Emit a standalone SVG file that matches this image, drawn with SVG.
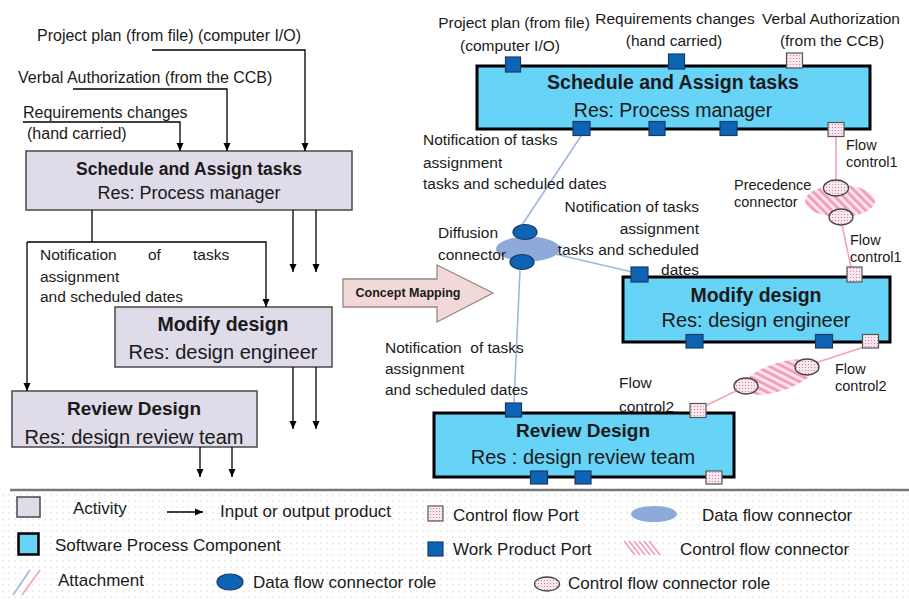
<svg xmlns="http://www.w3.org/2000/svg" width="909" height="600" viewBox="0 0 909 600">
<style>
text{font-family:"Liberation Sans",Arial,sans-serif;fill:#1a1a1a}
.lbl{font-size:15.5px}
.sm{font-size:14.5px}
.llbl{font-size:16px}
.leg{font-size:17px}
.act{fill:#DFDBE8;stroke:#4a4a4a;stroke-width:1.5}
.spc{fill:#67D3F6;stroke:#000;stroke-width:3}
.t1{font-weight:bold;text-anchor:middle}
.t2{text-anchor:middle}
.wp{fill:#0E64B4;stroke:#1A3A66;stroke-width:1.2}
.cp{fill:url(#dots);stroke:#555;stroke-width:1.2}
.dfr{fill:#0E64B4;stroke:#1A3A66;stroke-width:1.2}
.cfr{fill:url(#dots);stroke:#444;stroke-width:1.3}
.flow{fill:none;stroke:#000;stroke-width:1.3}
.att-b{fill:none;stroke:#9DB8DE;stroke-width:1.6}
.att-p{fill:none;stroke:#F2A3BF;stroke-width:1.6}
</style>
<defs>
<marker id="arr" markerUnits="userSpaceOnUse" markerWidth="8" markerHeight="8" refX="8" refY="4" orient="auto">
<path d="M0,0.5 L8,4 L0,7.5 z" fill="#000"/>
</marker>
<pattern id="dots" width="3" height="3" patternUnits="userSpaceOnUse">
<rect width="3" height="3" fill="#FAE6EF"/>
<circle cx="1.5" cy="1.5" r="0.6" fill="#B97E98"/>
</pattern>
<pattern id="hatch" width="6" height="6" patternUnits="userSpaceOnUse" patternTransform="rotate(-45)">
<rect width="6" height="6" fill="#FCE3EC"/>
<rect width="2.8" height="6" fill="#F29BBA"/>
</pattern>
<pattern id="bgdots" width="6" height="6" patternUnits="userSpaceOnUse">
<rect width="6" height="6" fill="#fff"/>
<circle cx="3" cy="3" r="0.6" fill="#bdbdbd"/>
</pattern>
</defs>
<rect width="909" height="600" fill="#fff"/>

<!-- LEFT: activities -->
<g id="act-schedule">
<rect class="act" x="26" y="151" width="326" height="59"/>
<text class="t1" x="189" y="175" font-size="17.5">Schedule and Assign tasks</text>
<text class="t2" x="189" y="199" font-size="18">Res: Process manager</text>
</g>
<g id="act-modify">
<rect class="act" x="115" y="307" width="217" height="60"/>
<text class="t1" x="223" y="331" font-size="19.5">Modify design</text>
<text class="t2" x="223" y="359" font-size="20">Res: design engineer</text>
</g>
<g id="act-review">
<rect class="act" x="12" y="391" width="245" height="56"/>
<text class="t1" x="134" y="415" font-size="19">Review Design</text>
<text class="t2" x="134" y="444" font-size="20">Res: design review team</text>
</g>

<g id="left-connectors">
<path class="flow" d="M152,50 H305 V151" marker-end="url(#arr)"/>
<path class="flow" d="M73,89 H227 V151" marker-end="url(#arr)"/>
<path class="flow" d="M23,122 H180 V151" marker-end="url(#arr)"/>
<path class="flow" d="M92,210 V242"/>
<path class="flow" d="M27,242 H266 V307" marker-end="url(#arr)"/>
<path class="flow" d="M27,242 V391" marker-end="url(#arr)"/>
<path class="flow" d="M293,210 V272" marker-end="url(#arr)"/>
<path class="flow" d="M316,210 V272" marker-end="url(#arr)"/>
<path class="flow" d="M293,367 V429" marker-end="url(#arr)"/>
<path class="flow" d="M316,367 V429" marker-end="url(#arr)"/>
<path class="flow" d="M200,447 V477" marker-end="url(#arr)"/>
<path class="flow" d="M232,447 V477" marker-end="url(#arr)"/>
</g>
<g id="left-labels">
<text class="llbl" x="37" y="41">Project plan (from file) (computer I/O)</text>
<text class="llbl" x="18" y="83">Verbal Authorization (from the CCB)</text>
<text class="llbl" x="23" y="118">Requirements changes</text>
<text class="llbl" x="27" y="139">(hand carried)</text>
<text class="lbl"><tspan x="40" y="260">Notification</tspan><tspan x="148" y="260">of</tspan><tspan x="193" y="260">tasks</tspan></text>
<text class="lbl" x="40" y="282">assignment</text>
<text class="lbl" x="40" y="302">and scheduled dates</text>
</g>

<!-- Concept mapping arrow -->
<g id="concept-mapping">
<path d="M343,279 H437 V265 L493,293 L437,322 V307 H343 Z" fill="#F2D9D7" stroke="#9a8585" stroke-width="1.3"/>
<text x="408" y="297" font-size="12.5" font-weight="bold" text-anchor="middle">Concept Mapping</text>
</g>

<!-- RIGHT: connectors -->
<g id="right-connectors">
<path class="att-b" d="M581,136 L522,225"/>
<path class="att-b" d="M555,254 L632,272"/>
<path class="att-b" d="M520,270 L514,403"/>
<path class="att-p" d="M836,137 V180"/>
<path class="att-p" d="M842,225 L851,267"/>
<path class="att-p" d="M864,347 L815,363"/>
<path class="att-p" d="M736,391 L705,406"/>
<g id="diffusion-connector">
<ellipse cx="528" cy="249" rx="32" ry="12.5" fill="#8EAADB"/>
<ellipse class="dfr" cx="525" cy="232" rx="12" ry="7.5"/>
<ellipse class="dfr" cx="522" cy="262" rx="12" ry="7.5"/>
</g>
<g id="precedence-connector">
<ellipse cx="840" cy="201" rx="35" ry="16" fill="url(#hatch)"/>
<ellipse class="cfr" cx="836" cy="188" rx="12.5" ry="8"/>
<ellipse class="cfr" cx="841" cy="217" rx="12" ry="8"/>
</g>
<g id="flow-control2-connector">
<ellipse cx="779" cy="377" rx="38" ry="14" fill="url(#hatch)" transform="rotate(-18 779 377)"/>
<ellipse class="cfr" cx="807" cy="367" rx="12" ry="8"/>
<ellipse class="cfr" cx="746" cy="386" rx="12" ry="8"/>
</g>
</g>

<!-- RIGHT: components -->
<g id="spc-schedule">
<rect class="spc" x="477" y="66" width="393" height="63"/>
<text class="t1" x="673" y="89" font-size="19.5">Schedule and Assign tasks</text>
<text class="t2" x="673" y="117" font-size="19.5">Res: Process manager</text>
<rect class="wp" x="505.5" y="57" width="15" height="15"/>
<rect class="wp" x="668.5" y="54" width="16" height="15"/>
<rect class="cp" x="786.5" y="53" width="16" height="15"/>
<rect class="wp" x="573" y="121.5" width="17" height="14"/>
<rect class="wp" x="649" y="121.5" width="16" height="14"/>
<rect class="wp" x="720" y="121.5" width="17" height="14"/>
<rect class="cp" x="828" y="122.5" width="16" height="14"/>
</g>
<g id="spc-modify">
<rect class="spc" x="623" y="277" width="267" height="65"/>
<text class="t1" x="756" y="302" font-size="19.5">Modify design</text>
<text class="t2" x="756" y="327" font-size="20">Res: design engineer</text>
<rect class="wp" x="631" y="267" width="17" height="15"/>
<rect class="cp" x="847" y="267" width="15" height="15"/>
<rect class="wp" x="686" y="334.5" width="17" height="13.5"/>
<rect class="wp" x="815.5" y="334.5" width="17" height="13.5"/>
<rect class="cp" x="862.5" y="334.5" width="16" height="13.5"/>
</g>
<g id="spc-review">
<rect class="spc" x="434" y="413" width="300" height="64"/>
<text class="t1" x="583" y="437" font-size="19">Review Design</text>
<text class="t2" x="583" y="464" font-size="20">Res : design review team</text>
<rect class="wp" x="505.5" y="403" width="16" height="14"/>
<rect class="cp" x="690" y="403.5" width="16" height="14"/>
<rect class="wp" x="530.5" y="471" width="17" height="13"/>
<rect class="wp" x="575" y="471" width="16" height="13"/>
<rect class="cp" x="706" y="471" width="16" height="13"/>
</g>

<g id="right-labels">
<text class="lbl" x="514" y="28" text-anchor="middle">Project plan (from file)</text>
<text class="lbl" x="510" y="51" text-anchor="middle">(computer I/O)</text>
<text class="lbl" x="675" y="24" text-anchor="middle">Requirements changes</text>
<text class="lbl" x="674" y="46" text-anchor="middle">(hand carried)</text>
<text class="lbl" x="831" y="24" text-anchor="middle">Verbal Authorization</text>
<text class="lbl" x="832" y="46" text-anchor="middle">(from the CCB)</text>
<text class="lbl" x="423" y="145">Notification of tasks</text>
<text class="lbl" x="423" y="168">assignment</text>
<text class="lbl" x="423" y="189">tasks and scheduled dates</text>
<text class="lbl" x="699" y="212" text-anchor="end">Notification of tasks</text>
<text class="lbl" x="699" y="234" text-anchor="end">assignment</text>
<text class="lbl" x="699" y="255" text-anchor="end">tasks and scheduled</text>
<text class="lbl" x="699" y="275" text-anchor="end">dates</text>
<text class="lbl" x="438" y="238">Diffusion</text>
<text class="lbl" x="438" y="260">connector</text>
<text class="sm" x="734" y="190">Precedence</text>
<text class="sm" x="734" y="207">connector</text>
<text class="sm" x="846" y="150">Flow</text>
<text class="sm" x="846" y="167">control1</text>
<text class="sm" x="850" y="245">Flow</text>
<text class="sm" x="850" y="262">control1</text>
<text class="lbl" x="385" y="353" xml:space="preserve">Notification  of tasks</text>
<text class="lbl" x="385" y="374">assignment</text>
<text class="lbl" x="385" y="395">and scheduled dates</text>
<text class="lbl" x="619" y="388">Flow</text>
<text class="lbl" x="619" y="412">control2</text>
<text class="sm" x="835" y="374">Flow</text>
<text class="sm" x="835" y="391">control2</text>
</g>

<!-- LEGEND -->
<g id="legend">
<rect x="0" y="491" width="909" height="109" fill="url(#bgdots)"/>
<line x1="10" y1="490" x2="909" y2="490" stroke="#777" stroke-width="2.5"/>
<rect class="act" x="17" y="497" width="23" height="20"/>
<text class="leg" x="73" y="514">Activity</text>
<line x1="167" y1="512" x2="203" y2="512" stroke="#000" stroke-width="1.3" marker-end="url(#arr)"/>
<text class="leg" x="220" y="517">Input or output product</text>
<rect class="cp" x="428" y="506" width="15" height="15"/>
<text class="leg" x="453" y="521">Control flow Port</text>
<ellipse cx="654" cy="514" rx="23" ry="8" fill="#8EAADB"/>
<text class="leg" x="702" y="521">Data flow connector</text>
<rect x="18.5" y="533.5" width="20" height="21" fill="#67D3F6" stroke="#000" stroke-width="2.5"/>
<text class="leg" x="55" y="551">Software Process Component</text>
<rect class="wp" x="428" y="542" width="15" height="14"/>
<text class="leg" x="453" y="555">Work Product Port</text>
<g stroke="#F29BBA" stroke-width="1.6">
<line x1="624" y1="541" x2="635" y2="555"/>
<line x1="629" y1="541" x2="640" y2="555"/>
<line x1="634" y1="541" x2="645" y2="555"/>
<line x1="639" y1="541" x2="650" y2="555"/>
<line x1="644" y1="541" x2="655" y2="555"/>
<line x1="649" y1="541" x2="660" y2="555"/>
</g>
<text class="leg" x="680" y="555">Control flow connector</text>
<line x1="13" y1="595" x2="30" y2="570" stroke="#9DB8DE" stroke-width="1.6"/>
<line x1="22" y1="595" x2="40" y2="570" stroke="#F2A3BF" stroke-width="1.6"/>
<text class="leg" x="58" y="586">Attachment</text>
<ellipse class="dfr" cx="230" cy="582" rx="13" ry="8"/>
<text class="leg" x="253" y="588">Data flow connector role</text>
<ellipse class="cfr" cx="547" cy="584" rx="12.5" ry="7"/>
<text class="leg" x="568" y="589">Control flow connector role</text>
</g>
</svg>
